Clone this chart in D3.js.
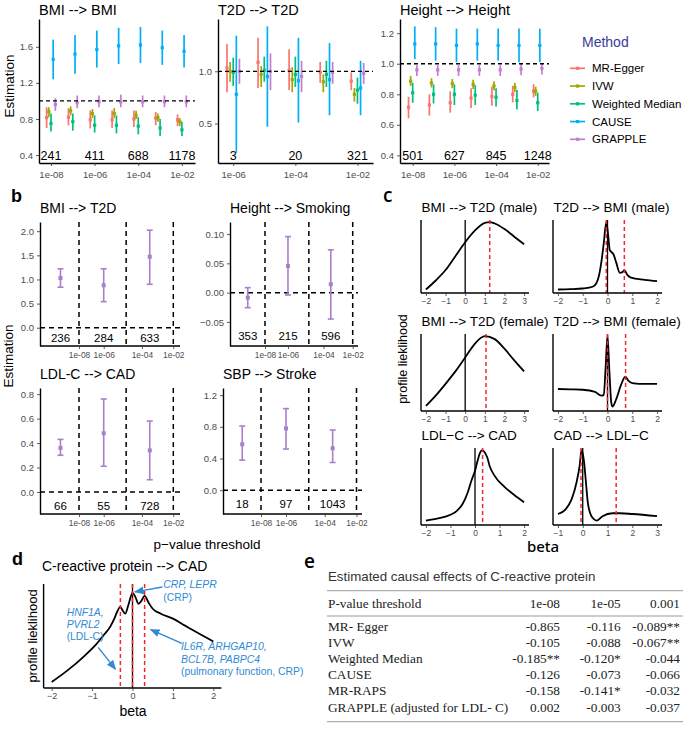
<!DOCTYPE html>
<html><head><meta charset="utf-8">
<script src="https://cdn.jsdelivr.net/npm/d3@7"></script>
<style>body{margin:0;background:#fff}</style>
</head><body><svg id="c" width="683" height="731"></svg>
<script>
const FONT = "'Liberation Sans', Arial, Helvetica, sans-serif";
const SERIF = "'Liberation Serif', 'Times New Roman', serif";
const svg = d3.select("#c");

// ---------------- DATA ----------------
const methods = ["MR-Egger", "IVW", "Weighted Median", "CAUSE", "GRAPPLE"];
const methodColors = ["#F8766D", "#A3A500", "#00BF7D", "#00B0F6", "#C47ECF"];

// panel a: [estimate, lower, upper] per log10 p threshold
const bmiThr = [-8, -7, -6, -5, -4, -3, -2];
const bmiEgger = [[0.815,0.70,0.93],[0.82,0.73,0.92],[0.79,0.695,0.895],[0.79,0.70,0.895],[0.80,0.71,0.895],[0.81,0.73,0.877],[0.79,0.72,0.85]];
const bmiIvw = [[0.88,0.82,0.93],[0.89,0.84,0.94],[0.86,0.81,0.91],[0.86,0.81,0.92],[0.84,0.80,0.89],[0.815,0.77,0.86],[0.77,0.72,0.81]];
const bmiWm = [[0.75,0.66,0.86],[0.77,0.67,0.86],[0.73,0.65,0.84],[0.73,0.64,0.84],[0.72,0.63,0.82],[0.70,0.61,0.80],[0.68,0.61,0.77]];
const bmiCause = [[1.46,1.24,1.68],[1.52,1.30,1.73],[1.57,1.37,1.78],[1.61,1.41,1.81],[1.62,1.42,1.82],[1.59,1.40,1.78],[1.55,1.37,1.73]];
const bmiGrapple = [[0.96,0.89,1.03],[0.98,0.92,1.06],[0.99,0.93,1.06],[0.99,0.93,1.07],[0.99,0.93,1.06],[0.99,0.93,1.06],[0.99,0.93,1.06]];
const bmiCountThr = [-8, -6, -4, -2];
const bmiCounts = [241, 411, 688, 1178];

const t2dThr = [-6, -5, -4, -3, -2];
const t2dEgger = [[1.03,0.80,1.26],[1.085,0.84,1.32],[1.01,0.82,1.21],[0.99,0.89,1.09],[0.905,0.82,0.99]];
const t2dIvw = [[1.0,0.90,1.09],[0.97,0.85,1.05],[0.92,0.80,1.04],[0.90,0.80,0.97],[0.78,0.71,0.84]];
const t2dWm = [[0.99,0.86,1.13],[1.01,0.90,1.14],[0.97,0.85,1.14],[0.97,0.85,1.10],[0.82,0.69,0.94]];
const t2dCause = [[0.78,0.22,1.34],[0.95,0.47,1.43],[0.91,0.51,1.32],[0.92,0.58,1.27],[0.84,0.58,1.10]];
const t2dGrapple = [[1.0,0.88,1.12],[1.0,0.82,1.17],[0.95,0.80,1.10],[0.99,0.88,1.09],[0.98,0.88,1.08]];
const t2dCountThr = [-6, -4, -2];
const t2dCounts = [3, 20, 321];

const htThr = [-8, -7, -6, -5, -4, -3, -2];
const htEgger = [[0.715,0.643,0.784],[0.73,0.66,0.80],[0.745,0.68,0.82],[0.775,0.71,0.84],[0.785,0.725,0.85],[0.80,0.747,0.855],[0.82,0.78,0.866]];
const htIvw = [[0.885,0.855,0.92],[0.875,0.845,0.905],[0.87,0.84,0.90],[0.865,0.835,0.895],[0.855,0.825,0.885],[0.845,0.815,0.875],[0.82,0.79,0.85]];
const htWm = [[0.81,0.745,0.875],[0.80,0.74,0.865],[0.80,0.73,0.865],[0.795,0.73,0.86],[0.78,0.72,0.84],[0.76,0.70,0.83],[0.745,0.69,0.81]];
const htCause = [[1.13,1.03,1.245],[1.13,1.02,1.24],[1.12,1.01,1.23],[1.13,1.02,1.23],[1.12,1.02,1.23],[1.12,1.01,1.23],[1.12,1.01,1.23]];
const htGrapple = [[0.96,0.92,0.99],[0.96,0.92,0.99],[0.96,0.92,0.99],[0.96,0.92,0.99],[0.96,0.92,0.99],[0.965,0.925,1.0],[0.97,0.93,1.0]];
const htCountThr = [-8, -6, -4, -2];
const htCounts = [501, 627, 845, 1248];

// panel b: GRAPPLE estimates in three p-value bins
const bBinLogP = [-9.5, -6, -3.5];
const bAxisLogP = [-8, -6, -5, -4, -2];
const bAxisFrac = [0, 0.262, 0.5, 0.667, 1];
const bTickLogP = [-8, -6, -4, -2];
const bTickLabels = ["1e-08", "1e-06", "1e-04", "1e-02"];
const bCutLogP = [-8, -5, -2];
const bBmiT2d = [[1.03,0.84,1.22],[0.88,0.54,1.22],[1.47,0.90,2.02]];
const bBmiT2dN = [236, 284, 633];
const bHtSmk = [[-0.0085,-0.0256,0.0085],[0.0455,-0.004,0.0956],[0.0143,-0.045,0.073]];
const bHtSmkN = [353, 215, 596];
const bLdlCad = [[0.36,0.30,0.43],[0.48,0.21,0.76],[0.34,0.10,0.58]];
const bLdlCadN = [66, 55, 728];
const bSbpStk = [[0.58,0.38,0.81],[0.78,0.52,1.03],[0.53,0.35,0.76]];
const bSbpStkN = [18, 97, 1043];

// panel c: profile likelihood curves [beta, relative likelihood]
const cMaleBmiT2d = [[-2,0.03],[-1.5,0.16],[-1,0.31],[-0.5,0.51],[0,0.71],[0.5,0.88],[1,0.99],[1.25,1.0],[1.5,0.98],[2,0.9],[2.5,0.79],[3,0.68]];
const cMaleT2dBmi = [[-2,0.03],[-1.5,0.035],[-1,0.045],[-0.6,0.07],[-0.45,0.12],[-0.35,0.22],[-0.25,0.42],[-0.15,0.7],[-0.05,1.0],[0.03,0.8],[0.09,0.6],[0.16,0.57],[0.25,0.53],[0.35,0.42],[0.5,0.27],[0.6,0.28],[0.68,0.31],[0.8,0.24],[0.95,0.2],[1.5,0.17],[2,0.15]];
const cFemBmiT2d = [[-2,0.05],[-1.5,0.19],[-1,0.35],[-0.5,0.52],[0,0.71],[0.5,0.9],[1,1.0],[1.5,0.96],[2,0.83],[2.5,0.67],[3,0.52]];
const cFemT2dBmi = [[-2,0.28],[-1.5,0.275],[-1,0.27],[-0.5,0.24],[-0.25,0.19],[-0.15,0.2],[-0.08,0.55],[0,1.0],[0.08,0.5],[0.15,0.1],[0.2,0.04],[0.35,0.14],[0.55,0.34],[0.72,0.45],[0.85,0.39],[1.0,0.36],[1.3,0.35],[2,0.35]];
const cLdlCad = [[-2,0.04],[-1.5,0.07],[-1,0.12],[-0.75,0.17],[-0.5,0.27],[-0.3,0.42],[-0.15,0.58],[0,0.72],[0.1,0.85],[0.2,0.96],[0.3,1.0],[0.4,0.97],[0.5,0.9],[0.6,0.78],[0.8,0.65],[1.2,0.5],[1.6,0.39],[2,0.29]];
const cCadLdl = [[-1,0.13],[-0.7,0.19],[-0.45,0.33],[-0.25,0.56],[-0.12,0.8],[-0.05,1.0],[0.05,0.85],[0.12,0.6],[0.2,0.3],[0.3,0.14],[0.45,0.06],[0.57,0.04],[0.8,0.1],[1.2,0.14],[1.5,0.14],[2,0.13],[3,0.1]];

// panel d
const dCrpCad = [[-2,0.04],[-1.6,0.16],[-1.2,0.3],[-0.9,0.42],[-0.7,0.52],[-0.55,0.6],[-0.45,0.68],[-0.38,0.75],[-0.3,0.8],[-0.24,0.76],[-0.18,0.73],[-0.1,0.82],[0,0.94],[0.07,0.9],[0.15,0.83],[0.22,0.86],[0.3,0.91],[0.4,0.84],[0.5,0.78],[0.7,0.73],[1.0,0.68],[1.3,0.61],[1.6,0.54],[2,0.45]];
const dPeaks = [-0.3, 0, 0.3];

// panel e
const eHeader = ["P-value threshold", "1e-08", "1e-05", "0.001"];
const eRows = ["MR- Egger", "IVW", "Weighted Median", "CAUSE", "MR-RAPS", "GRAPPLE (adjusted for LDL- C)"];
const eCol1 = ["-0.865", "-0.105", "-0.185**", "-0.126", "-0.158", "0.002"];
const eCol2 = ["-0.116", "-0.088", "-0.120*", "-0.073", "-0.141*", "-0.003"];
const eCol3 = ["-0.089**", "-0.067**", "-0.044", "-0.066", "-0.032", "-0.037"];

// ---------------- HELPERS ----------------
function txt(x, y, s, o = {}) {
  const t = svg.append("text").attr("x", x).attr("y", y).text(s)
    .attr("font-family", o.family || FONT).attr("font-size", o.size || 12)
    .attr("fill", o.fill || "#000");
  if (o.anchor) t.attr("text-anchor", o.anchor);
  if (o.weight) t.attr("font-weight", o.weight);
  if (o.style) t.attr("font-style", o.style);
  if (o.rotate) t.attr("transform", `rotate(-90,${x},${y})`);
  return t;
}
function styleAxis(g, fs) {
  g.select(".domain").attr("stroke", "#000").attr("stroke-width", 1.4);
  g.selectAll(".tick line").attr("stroke", "#333").attr("stroke-width", 0.8);
  g.selectAll(".tick text").attr("fill", "#4d4d4d").attr("font-size", fs).attr("font-family", FONT);
}

// ---------------- PANEL A ----------------
function panelA(o) {
  const x = d3.scaleLinear().domain(o.xDom).range([o.l, o.r]);
  const y = d3.scaleLinear().domain(o.yDom).range([o.b, o.t]);
  const g = svg.append("g");
  o.series.forEach((s, i) => {
    const col = methodColors[i];
    s.forEach((d, j) => {
      const cx = x(o.thr[j] + (i - 2) * 0.1);
      g.append("line").attr("x1", cx).attr("x2", cx).attr("y1", y(d[1])).attr("y2", y(d[2]))
        .attr("stroke", col).attr("stroke-width", 1.7);
      g.append("rect").attr("x", cx - 1.6).attr("y", y(d[0]) - 1.6).attr("width", 3.2).attr("height", 3.2).attr("fill", col);
    });
  });
  g.append("line").attr("x1", o.l).attr("x2", o.r).attr("y1", y(1)).attr("y2", y(1))
    .attr("stroke", "#000").attr("stroke-width", 1.3).attr("stroke-dasharray", "4,3");
  const ya = g.append("g").attr("transform", `translate(${o.l},0)`)
    .call(d3.axisLeft(y).tickValues(o.yTicks).tickFormat(d3.format(".1f")).tickSize(3).tickSizeOuter(0));
  styleAxis(ya, 9.5);
  const xa = g.append("g").attr("transform", `translate(0,${o.b})`)
    .call(d3.axisBottom(x).tickValues(o.cThr).tickFormat(v => "1e-0" + (-v)).tickSize(3).tickSizeOuter(0));
  styleAxis(xa, 9.5);
  xa.selectAll(".tick text").attr("dy", "0.9em");
  o.counts.forEach((c, j) => txt(x(o.cThr[j]), o.b - 3.5, c, { size: 12.5, anchor: "middle" }));
  txt(o.l, 15, o.title, { size: 14.5 });
}
panelA({ l: 39, r: 195, t: 19, b: 163, xDom: [-8.55, -1.4], yDom: [0.312, 1.908], yTicks: [0.4, 0.8, 1.2, 1.6],
  thr: bmiThr, series: [bmiEgger, bmiIvw, bmiWm, bmiCause, bmiGrapple], cThr: bmiCountThr, counts: bmiCounts, title: "BMI --> BMI" });
panelA({ l: 218, r: 373, t: 19, b: 163, xDom: [-6.49, -1.5], yDom: [0.123, 1.5], yTicks: [0.5, 1.0],
  thr: t2dThr, series: [t2dEgger, t2dIvw, t2dWm, t2dCause, t2dGrapple], cThr: t2dCountThr, counts: t2dCounts, title: "T2D --> T2D" });
panelA({ l: 400, r: 549, t: 19, b: 163, xDom: [-8.61, -1.46], yDom: [0.35, 1.293], yTicks: [0.4, 0.6, 0.8, 1.0, 1.2],
  thr: htThr, series: [htEgger, htIvw, htWm, htCause, htGrapple], cThr: htCountThr, counts: htCounts, title: "Height --> Height" });
txt(14, 86, "Estimation", { size: 13.5, anchor: "middle", rotate: true });

// legend
txt(582, 47, "Method", { size: 14, fill: "#3b3b98" });
methods.forEach((m, i) => {
  const yy = 68.3 + i * 17.75;
  svg.append("line").attr("x1", 570).attr("x2", 585).attr("y1", yy).attr("y2", yy).attr("stroke", methodColors[i]).attr("stroke-width", 1.7);
  svg.append("rect").attr("x", 576).attr("y", yy - 1.6).attr("width", 3.2).attr("height", 3.2).attr("fill", methodColors[i]);
  txt(592, yy + 4, m, { size: 11.5 });
});

// ---------------- PANEL B ----------------
const bColor = "#A97FCB";
function panelB(o) {
  const x = d3.scaleLinear().domain(bAxisLogP).range(bAxisFrac.map(f => o.d0 + f * (o.d1 - o.d0)));
  const y = d3.scaleLinear().domain(o.yDom).range([o.b, o.t]);
  const g = svg.append("g");
  bCutLogP.forEach(c => g.append("line").attr("x1", x(c)).attr("x2", x(c)).attr("y1", o.t).attr("y2", o.b)
    .attr("stroke", "#000").attr("stroke-width", 1.5).attr("stroke-dasharray", "5,4"));
  g.append("line").attr("x1", o.l).attr("x2", o.r).attr("y1", y(0)).attr("y2", y(0))
    .attr("stroke", "#000").attr("stroke-width", 1.5).attr("stroke-dasharray", "5,4");
  o.data.forEach((d, j) => {
    const cx = x(bBinLogP[j]);
    g.append("line").attr("x1", cx).attr("x2", cx).attr("y1", y(d[1])).attr("y2", y(d[2])).attr("stroke", bColor).attr("stroke-width", 1.6);
    [d[1], d[2]].forEach(v => g.append("line").attr("x1", cx - 3).attr("x2", cx + 3).attr("y1", y(v)).attr("y2", y(v)).attr("stroke", bColor).attr("stroke-width", 1.6));
    g.append("rect").attr("x", cx - 2).attr("y", y(d[0]) - 2).attr("width", 4).attr("height", 4).attr("fill", bColor);
    txt(cx, o.b - o.nOff, o.n[j], { size: 11.5, anchor: "middle" });
  });
  const ya = g.append("g").attr("transform", `translate(${o.l},0)`)
    .call(d3.axisLeft(y).tickValues(o.yTicks).tickFormat(d3.format(o.fmt)).tickSize(3).tickSizeOuter(0));
  styleAxis(ya, 9.5);
  const xa = g.append("g").attr("transform", `translate(0,${o.b})`)
    .call(d3.axisBottom(x).tickValues(bTickLogP).tickFormat((v, i) => bTickLabels[i]).tickSize(3).tickSizeOuter(0));
  styleAxis(xa, 8.4);
  xa.select(".domain").attr("d", `M${o.l},0H${o.r}`);
  txt(o.l, o.t - 9, o.title, { size: 14 });
}
panelB({ l: 40, r: 180, t: 222, b: 346, d0: 79, d1: 173.3, yDom: [-0.378, 2.19], yTicks: [0, 0.5, 1, 1.5, 2], fmt: ".1f",
  data: bBmiT2d, n: bBmiT2dN, nOff: 4, title: "BMI --> T2D" });
panelB({ l: 230, r: 358, t: 222, b: 346, d0: 265, d1: 352.7, yDom: [-0.091, 0.1205], yTicks: [-0.05, 0, 0.05, 0.1], fmt: ".2f",
  data: bHtSmk, n: bHtSmkN, nOff: 6.5, title: "Height --> Smoking" });
panelB({ l: 40, r: 180, t: 388, b: 514, d0: 79, d1: 173.3, yDom: [-0.18, 0.85], yTicks: [0, 0.2, 0.4, 0.6, 0.8], fmt: ".1f",
  data: bLdlCad, n: bLdlCadN, nOff: 4, title: "LDL-C --> CAD" });
panelB({ l: 223, r: 362, t: 388, b: 514, d0: 261, d1: 356.5, yDom: [-0.30, 1.29], yTicks: [0, 0.4, 0.8, 1.2], fmt: ".1f",
  data: bSbpStk, n: bSbpStkN, nOff: 6.5, title: "SBP --> Stroke" });
txt(13, 356, "Estimation", { size: 13.5, anchor: "middle", rotate: true });
txt(207, 549, "p\u2212value threshold", { size: 13.5, anchor: "middle" });

// ---------------- PANEL C ----------------
function panelC(o) {
  const span = o.xr[1] - o.xr[0];
  const x = d3.scaleLinear().domain([o.xr[0] - 0.05 * span, o.xr[1] + 0.05 * span]).range([o.l, o.r]);
  const y = d3.scaleLinear().domain([-0.02, 1.03]).range([o.b, o.t]);
  const g = svg.append("g");
  g.append("line").attr("x1", x(0)).attr("x2", x(0)).attr("y1", o.t).attr("y2", o.b).attr("stroke", "#000").attr("stroke-width", 1.3);
  g.append("path").datum(o.data).attr("fill", "none").attr("stroke", "#000").attr("stroke-width", o.lw || 1.8)
    .attr("d", d3.line().x(d => x(d[0])).y(d => y(d[1])).curve(d3.curveMonotoneX));
  o.red.forEach(v => g.append("line").attr("x1", x(v)).attr("x2", x(v)).attr("y1", o.t).attr("y2", o.b)
    .attr("stroke", "#F2262A").attr("stroke-width", 1.5).attr("stroke-dasharray", "4,3"));
  g.append("line").attr("x1", o.l).attr("x2", o.l).attr("y1", o.t).attr("y2", o.b).attr("stroke", "#000").attr("stroke-width", 1.4);
  const xa = g.append("g").attr("transform", `translate(0,${o.b})`)
    .call(d3.axisBottom(x).tickValues(d3.range(o.xr[0], o.xr[1] + 1)).tickFormat(d3.format("d")).tickSize(3).tickSizeOuter(0));
  styleAxis(xa, o.fs || 8.5);
  xa.select(".domain").attr("d", `M${o.l},0H${o.r}`);
  xa.selectAll(".tick text").attr("dy", "0.55em");
  if (o.title) txt(o.l + 0.5, o.t - 8, o.title, { size: o.ts || 13.5 });
  return { x, y };
}
panelC({ l: 421, r: 529, t: 220, b: 293, xr: [-2, 3], data: cMaleBmiT2d, red: [1.25], title: "BMI --> T2D (male)" });
panelC({ l: 553, r: 662, t: 220, b: 293, xr: [-2, 2], data: cMaleT2dBmi, red: [-0.05, 0.68], title: "T2D --> BMI (male)" });
panelC({ l: 421, r: 529, t: 334, b: 411, xr: [-2, 3], data: cFemBmiT2d, red: [1.06], title: "BMI --> T2D (female)" });
panelC({ l: 553, r: 662, t: 334, b: 411, xr: [-2, 2], data: cFemT2dBmi, red: [0, 0.73], title: "T2D --> BMI (female)" });
panelC({ l: 421, r: 529, t: 448, b: 525, xr: [-2, 2], data: cLdlCad, red: [0.31], title: "LDL\u2212C --> CAD" });
panelC({ l: 553, r: 662, t: 448, b: 525, xr: [-1, 3], data: cCadLdl, red: [-0.07, 1.35], title: "CAD --> LDL\u2212C" });
txt(407, 359, "profile lieklihood", { size: 12.5, anchor: "middle", rotate: true });
txt(543, 552, "beta", { size: 15, anchor: "middle", family: "'Noto Sans', 'Open Sans', sans-serif", weight: 500 });

// ---------------- PANEL D ----------------
const dSc = panelC({ l: 43.6, r: 221.4, t: 584, b: 688, xr: [-2, 2], data: dCrpCad, red: dPeaks, fs: 9, lw: 1.8 });
txt(42, 571, "C-reactive protein --> CAD", { size: 14 });
txt(37, 636, "profile lieklihood", { size: 13, anchor: "middle", rotate: true });
txt(133, 716, "beta", { size: 14, anchor: "middle" });
const blue = "#2F8AD3";
const dNotes = [
  { t: "CRP, LEPR", b: 0.76, v: 0.985, it: true }, { t: "(CRP)", b: 0.76, v: 0.86, it: false },
  { t: "HNF1A,", b: -1.63, v: 0.71, it: true }, { t: "PVRL2", b: -1.63, v: 0.585, it: true }, { t: "(LDL-C)", b: -1.63, v: 0.46, it: false },
  { t: "IL6R, ARHGAP10,", b: 1.2, v: 0.36, it: true }, { t: "BCL7B, PABPC4", b: 1.2, v: 0.235, it: true },
  { t: "(pulmonary function, CRP)", b: 1.2, v: 0.11, it: false }
];
dNotes.forEach(n => txt(dSc.x(n.b), dSc.y(n.v), n.t, { size: 10.4, fill: blue, style: n.it ? "italic" : null }));
svg.append("defs").append("marker").attr("id", "ah").attr("viewBox", "0 0 10 10").attr("refX", 9).attr("refY", 5)
  .attr("markerWidth", 7).attr("markerHeight", 7).attr("orient", "auto")
  .append("path").attr("d", "M0,1L10,5L0,9Z").attr("fill", blue);
const dArrows = [[0.74, 1.0, 0.06, 0.95], [-0.85, 0.39, -0.42, 0.17], [1.22, 0.43, 0.45, 0.57]];
dArrows.forEach(a => svg.append("line").attr("x1", dSc.x(a[0])).attr("y1", dSc.y(a[1])).attr("x2", dSc.x(a[2])).attr("y2", dSc.y(a[3]))
  .attr("stroke", blue).attr("stroke-width", 1.4).attr("marker-end", "url(#ah)"));

// ---------------- PANEL E ----------------
txt(328, 581, "Estimated causal effects of C-reactive protein", { size: 13.3, fill: "#333" });
[590.7, 616, 721.7].forEach(yy => svg.append("line").attr("x1", 327).attr("x2", 683).attr("y1", yy).attr("y2", yy).attr("stroke", "#9a9a9a").attr("stroke-width", 1));
const colX = [560, 620.7, 680];
txt(328, 607.6, eHeader[0], { size: 13.3, family: SERIF, fill: "#222" });
eHeader.slice(1).forEach((h, i) => txt(colX[i], 607.6, h, { size: 13.3, family: SERIF, fill: "#222", anchor: "end" }));
eRows.forEach((r, i) => {
  const yy = 631 + i * 16.1;
  txt(328, yy, r, { size: 13.3, family: SERIF, fill: "#222" });
  [eCol1, eCol2, eCol3].forEach((c, k) => txt(colX[k], yy, c[i], { size: 13.3, family: SERIF, fill: "#222", anchor: "end" }));
});

// panel letters
txt(11, 202, "b", { size: 18, weight: "bold" });
txt(383, 202, "c", { size: 19, family: "'Open Sans', 'Noto Sans', sans-serif", weight: 600 });
txt(12, 565, "d", { size: 18, weight: "bold" });
txt(304, 568, "e", { size: 19, family: "'Open Sans', 'Noto Sans', sans-serif", weight: 600 });
</script></body></html>
